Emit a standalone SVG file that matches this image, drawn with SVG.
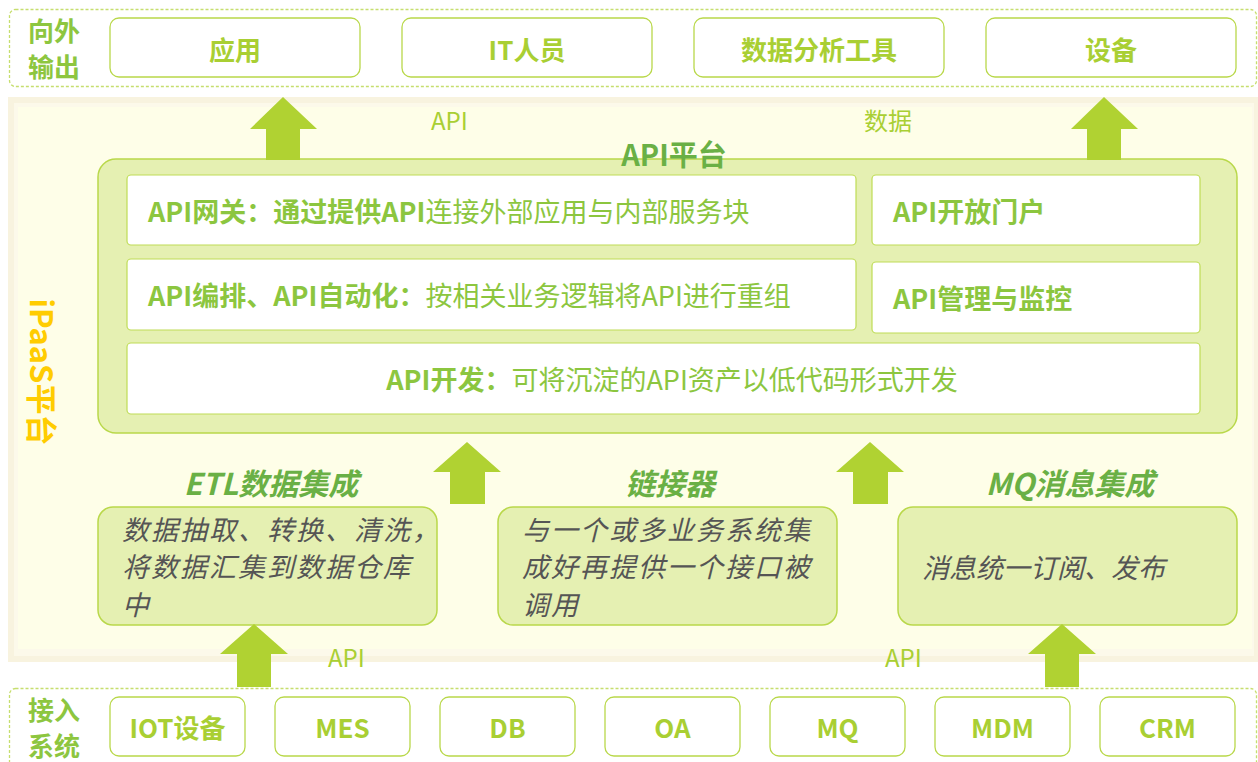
<svg xmlns="http://www.w3.org/2000/svg" width="1258" height="762" viewBox="0 0 1258 762">
<defs>
<style>
text{font-family:"Noto Sans CJK SC","Microsoft YaHei","Liberation Sans",sans-serif;}
.dash{fill:none;stroke:#c6de6e;stroke-width:1.3;stroke-dasharray:3 2;}
.obox{fill:#ffffff;stroke:#b9d84a;stroke-width:1.3;}
.otxt{font-size:26px;font-weight:bold;fill:#a9cf33;text-anchor:middle;}
.side{font-size:26px;font-weight:bold;fill:#8dc63f;}
.panel{fill:#e5f0b2;stroke:#b9d84a;stroke-width:1.5;}
.wbox{fill:#ffffff;stroke:#bfdc56;stroke-width:1.2;}
.atxt{font-size:27px;fill:#8cc63f;}
.b{font-weight:bold;}
.title{font-size:30px;font-weight:bold;font-style:italic;fill:#6ab045;text-anchor:middle;}
.itxt{font-size:27px;font-style:italic;fill:#555555;letter-spacing:2px;}
.lbl{font-size:24px;fill:#a9cf33;}
.arrow{fill:#b0d232;}
</style>
</defs>

<!-- top output band -->
<g id="output-band">
<rect class="dash" x="9.5" y="9.5" width="1247" height="77" rx="6"/>
<text class="side" x="28" y="41">向外</text>
<text class="side" x="28" y="77">输出</text>
</g>
<g id="out-app"><rect class="obox" x="110" y="18" width="250" height="59" rx="9"/><text class="otxt" x="235" y="60">应用</text></g>
<g id="out-it"><rect class="obox" x="402" y="18" width="250" height="59" rx="9"/><text class="otxt" x="527" y="60">IT人员</text></g>
<g id="out-tools"><rect class="obox" x="694" y="18" width="250" height="59" rx="9"/><text class="otxt" x="819" y="60">数据分析工具</text></g>
<g id="out-device"><rect class="obox" x="986" y="18" width="250" height="59" rx="9"/><text class="otxt" x="1111" y="60">设备</text></g>

<!-- iPaaS frame -->
<g id="ipaas">
<rect x="8" y="97" width="1250" height="565" fill="#f8f3df"/>
<rect x="14" y="103" width="1240" height="553" fill="#fcf9ea"/>
<rect x="18" y="107" width="1234" height="542" fill="#fefee8"/>
<text transform="translate(30,372) rotate(90)" font-size="31" font-weight="bold" fill="#ffcc00" text-anchor="middle">iPaaS平台</text>
</g>

<!-- API platform -->
<g id="api-platform">
<rect class="panel" x="98" y="159" width="1139" height="274" rx="18"/>
<text x="674" y="166" font-size="29" font-weight="bold" fill="#6ab045" text-anchor="middle">API平台</text>
</g>
<g id="api-gateway"><rect class="wbox" x="127" y="175" width="729" height="70" rx="4"/>
<text class="atxt" x="148" y="222"><tspan class="b">API网关：通过提供API</tspan>连接外部应用与内部服务块</text></g>
<g id="api-portal"><rect class="wbox" x="872" y="175" width="328" height="70" rx="4"/>
<text class="atxt b" x="893" y="222">API开放门户</text></g>
<g id="api-orch"><rect class="wbox" x="127" y="259" width="729" height="71" rx="4"/>
<text class="atxt" x="148" y="306"><tspan class="b">API编排、API自动化：</tspan>按相关业务逻辑将API进行重组</text></g>
<g id="api-mgmt"><rect class="wbox" x="872" y="262" width="328" height="71" rx="4"/>
<text class="atxt b" x="893" y="309">API管理与监控</text></g>
<g id="api-dev"><rect class="wbox" x="127" y="343" width="1073" height="71" rx="4"/>
<text class="atxt" x="672" y="390" text-anchor="middle"><tspan class="b">API开发：</tspan>可将沉淀的API资产以低代码形式开发</text></g>

<!-- integration modules -->
<g id="etl">
<text class="title" x="271" y="495">ETL数据集成</text>
<rect class="panel" x="98" y="507" width="339" height="118" rx="15"/>
<text class="itxt" x="122" y="540">数据抽取、转换、清洗，</text>
<text class="itxt" x="122" y="577">将数据汇集到数据仓库</text>
<text class="itxt" x="122" y="615">中</text>
</g>
<g id="connector">
<text class="title" x="670" y="495">链接器</text>
<rect class="panel" x="498" y="507" width="339" height="118" rx="15"/>
<text class="itxt" x="522" y="540">与一个或多业务系统集</text>
<text class="itxt" x="522" y="577">成好再提供一个接口被</text>
<text class="itxt" x="522" y="615">调用</text>
</g>
<g id="mq">
<text class="title" x="1070" y="495">MQ消息集成</text>
<rect class="panel" x="898" y="507" width="339" height="118" rx="15"/>
<text class="itxt" x="922" y="578" style="letter-spacing:0">消息统一订阅、发布</text>
</g>

<!-- bottom input band -->
<g id="input-band">
<rect class="dash" x="9.5" y="688.5" width="1247" height="90" rx="6"/>
<text class="side" x="28" y="720">接入</text>
<text class="side" x="28" y="756">系统</text>
</g>
<g id="in-iot"><rect class="obox" x="110" y="697" width="135" height="59" rx="9"/><text class="otxt" x="177.5" y="738">IOT设备</text></g>
<g id="in-mes"><rect class="obox" x="275" y="697" width="135" height="59" rx="9"/><text class="otxt" x="342.5" y="738">MES</text></g>
<g id="in-db"><rect class="obox" x="440" y="697" width="135" height="59" rx="9"/><text class="otxt" x="507.5" y="738">DB</text></g>
<g id="in-oa"><rect class="obox" x="605" y="697" width="135" height="59" rx="9"/><text class="otxt" x="672.5" y="738">OA</text></g>
<g id="in-mq"><rect class="obox" x="770" y="697" width="135" height="59" rx="9"/><text class="otxt" x="837.5" y="738">MQ</text></g>
<g id="in-mdm"><rect class="obox" x="935" y="697" width="135" height="59" rx="9"/><text class="otxt" x="1002.5" y="738">MDM</text></g>
<g id="in-crm"><rect class="obox" x="1100" y="697" width="135" height="59" rx="9"/><text class="otxt" x="1167.5" y="738">CRM</text></g>

<!-- connectors (block arrows) -->
<g id="connectors">
<path class="arrow" d="M283 97 L317 129 L300 129 L300 160 L266 160 L266 129 L250 129 Z"/>
<path class="arrow" d="M1104 97 L1138 129 L1121 129 L1121 160 L1087 160 L1087 129 L1071 129 Z"/>
<path class="arrow" d="M467 442 L501 472 L485 472 L485 504 L450 504 L450 472 L433 472 Z"/>
<path class="arrow" d="M870 442 L904 472 L888 472 L888 504 L853 504 L853 472 L836 472 Z"/>
<path class="arrow" d="M254 624 L288 654 L271 654 L271 687 L237 687 L237 654 L220 654 Z"/>
<path class="arrow" d="M1062 624 L1096 654 L1079 654 L1079 687 L1045 687 L1045 654 L1028 654 Z"/>
<text class="lbl" x="431" y="130">API</text>
<text class="lbl" x="864" y="130">数据</text>
<text class="lbl" x="328" y="667">API</text>
<text class="lbl" x="885" y="667">API</text>
</g>
</svg>
